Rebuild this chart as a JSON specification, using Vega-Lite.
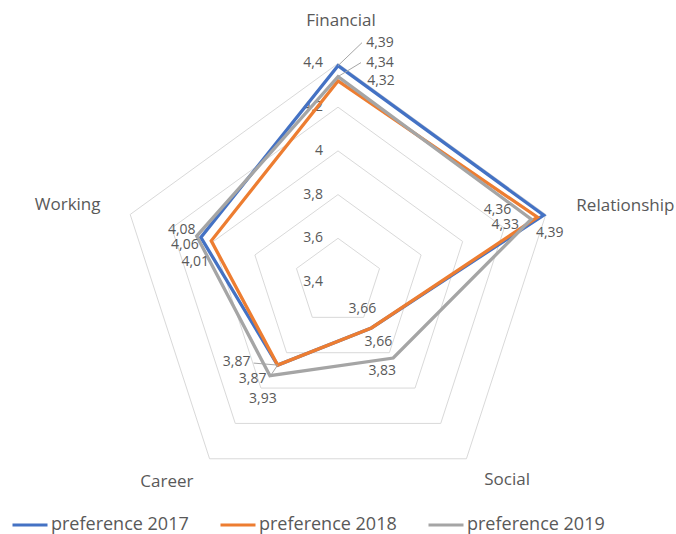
{
  "$schema": "https://vega.github.io/schema/vega-lite/v6.json",
  "width": 676,
  "height": 534,
  "padding": 0,
  "autosize": {"type": "none"},
  "config": {
    "view": {"stroke": null},
    "locale": {"number": {"decimal": ",", "thousands": ".", "grouping": [3], "currency": ["", " €"]}},
    "text": {"font": "Open Sans", "color": "#595959", "fontSize": 14, "baseline": "middle"}
  },
  "datasets": {
    "scores": [
      {"series": "preference 2017", "axis": "Financial", "value": 4.39},
      {"series": "preference 2017", "axis": "Relationship", "value": 4.39},
      {"series": "preference 2017", "axis": "Social", "value": 3.66},
      {"series": "preference 2017", "axis": "Career", "value": 3.87},
      {"series": "preference 2017", "axis": "Working", "value": 4.06},
      {"series": "preference 2018", "axis": "Financial", "value": 4.32},
      {"series": "preference 2018", "axis": "Relationship", "value": 4.36},
      {"series": "preference 2018", "axis": "Social", "value": 3.66},
      {"series": "preference 2018", "axis": "Career", "value": 3.87},
      {"series": "preference 2018", "axis": "Working", "value": 4.01},
      {"series": "preference 2019", "axis": "Financial", "value": 4.34},
      {"series": "preference 2019", "axis": "Relationship", "value": 4.33},
      {"series": "preference 2019", "axis": "Social", "value": 3.83},
      {"series": "preference 2019", "axis": "Career", "value": 3.93},
      {"series": "preference 2019", "axis": "Working", "value": 4.08}
    ],
    "grid": [
      {"axis": ["Financial", "Relationship", "Social", "Career", "Working"], "value": [3.6, 3.8, 4.0, 4.2, 4.4]}
    ],
    "ticks": [
      {"axis": "Financial", "value": 3.4},
      {"axis": "Financial", "value": 3.6},
      {"axis": "Financial", "value": 3.8},
      {"axis": "Financial", "value": 4.0},
      {"axis": "Financial", "value": 4.2},
      {"axis": "Financial", "value": 4.4}
    ],
    "axes": [
      {"axis": "Financial", "value": 4.6},
      {"axis": "Relationship", "value": 4.6},
      {"axis": "Social", "value": 4.6},
      {"axis": "Career", "value": 4.6},
      {"axis": "Working", "value": 4.6}
    ]
  },
  "encoding": {
    "x": {"field": "px", "type": "quantitative", "scale": {"domain": [-1.5469, 1.5469], "nice": false, "zero": false}, "axis": null},
    "y": {"field": "py", "type": "quantitative", "scale": {"domain": [-1.1533, 1.2906], "nice": false, "zero": false}, "axis": null}
  },
  "layer": [
    {
      "data": {"name": "grid"},
      "transform": [
        {"flatten": ["axis"]},
        {"flatten": ["value"]},
        {"calculate": "datum.axis == 'Financial' ? 0 : datum.axis == 'Relationship' ? 1 : datum.axis == 'Social' ? 2 : datum.axis == 'Career' ? 3 : 4", "as": "k"},
        {"calculate": "(datum.value - 3.4) * sin(datum.k * 2 * PI / 5)", "as": "px"},
        {"calculate": "(datum.value - 3.4) * cos(datum.k * 2 * PI / 5)", "as": "py"}
      ],
      "mark": {"type": "line", "interpolate": "linear-closed", "stroke": "#D9D9D9", "strokeWidth": 1},
      "encoding": {
        "detail": {"field": "value", "type": "nominal"},
        "order": {"field": "k", "type": "quantitative"}
      }
    },
    {
      "data": {"name": "ticks"},
      "transform": [
        {"calculate": "0", "as": "px"},
        {"calculate": "datum.value - 3.4", "as": "py"}
      ],
      "mark": {"type": "text", "align": "right", "dx": -15},
      "encoding": {"text": {"field": "value", "type": "quantitative", "format": "~g"}}
    },
    {
      "data": {"name": "scores"},
      "transform": [
        {"calculate": "datum.axis == 'Financial' ? 0 : datum.axis == 'Relationship' ? 1 : datum.axis == 'Social' ? 2 : datum.axis == 'Career' ? 3 : 4", "as": "k"},
        {"calculate": "(datum.value - 3.4) * sin(datum.k * 2 * PI / 5)", "as": "px"},
        {"calculate": "(datum.value - 3.4) * cos(datum.k * 2 * PI / 5)", "as": "py"}
      ],
      "layer": [
        {
          "mark": {"type": "line", "interpolate": "linear-closed", "strokeWidth": 3.3, "strokeJoin": "miter"},
          "encoding": {
            "color": {
              "field": "series",
              "type": "nominal",
              "scale": {"domain": ["preference 2017", "preference 2018", "preference 2019"], "range": ["#4472C4", "#ED7D31", "#A5A5A5"]},
              "legend": {
                "orient": "none",
                "legendX": 11,
                "legendY": 506,
                "direction": "horizontal",
                "title": null,
                "symbolType": "stroke",
                "symbolSize": 1225,
                "symbolStrokeWidth": 3,
                "labelFont": "Open Sans",
                "labelFontSize": 18,
                "labelColor": "#595959",
                "labelOffset": 2,
                "columnPadding": 25,
                "padding": 0
              }
            },
            "order": {"field": "k", "type": "quantitative"}
          }
        },
        {
          "transform": [{"filter": "datum.axis == 'Financial' && datum.series == 'preference 2017'"}],
          "mark": {"type": "rule", "stroke": "#A6A6A6", "strokeWidth": 1, "x2Offset": 24, "y2Offset": -23},
          "encoding": {"x2": {"field": "px"}, "y2": {"field": "py"}}
        },
        {
          "transform": [{"filter": "datum.axis == 'Financial' && datum.series == 'preference 2019'"}],
          "mark": {"type": "rule", "stroke": "#A6A6A6", "strokeWidth": 1, "x2Offset": 23, "y2Offset": -14},
          "encoding": {"x2": {"field": "px"}, "y2": {"field": "py"}}
        },
        {
          "transform": [{"filter": "datum.axis == 'Career' && datum.series == 'preference 2018'"}],
          "mark": {"type": "rule", "stroke": "#A6A6A6", "strokeWidth": 1, "x2Offset": -24, "y2Offset": -2},
          "encoding": {"x2": {"field": "px"}, "y2": {"field": "py"}}
        },
        {
          "transform": [{"filter": "datum.axis == 'Career' && datum.series == 'preference 2017'"}],
          "mark": {"type": "rule", "stroke": "#A6A6A6", "strokeWidth": 1, "x2Offset": -8, "y2Offset": 12},
          "encoding": {"x2": {"field": "px"}, "y2": {"field": "py"}}
        },
        {"transform": [{"filter": "datum.axis == 'Financial' && datum.series == 'preference 2017'"}], "mark": {"type": "text", "dx": 42, "dy": -23}, "encoding": {"text": {"field": "value", "type": "quantitative", "format": ".2f"}}},
        {"transform": [{"filter": "datum.axis == 'Financial' && datum.series == 'preference 2019'"}], "mark": {"type": "text", "dx": 42, "dy": -14}, "encoding": {"text": {"field": "value", "type": "quantitative", "format": ".2f"}}},
        {"transform": [{"filter": "datum.axis == 'Financial' && datum.series == 'preference 2018'"}], "mark": {"type": "text", "dx": 43, "dy": 0}, "encoding": {"text": {"field": "value", "type": "quantitative", "format": ".2f"}}},
        {"transform": [{"filter": "datum.axis == 'Relationship' && datum.series == 'preference 2018'"}], "mark": {"type": "text", "dx": -40, "dy": -7}, "encoding": {"text": {"field": "value", "type": "quantitative", "format": ".2f"}}},
        {"transform": [{"filter": "datum.axis == 'Relationship' && datum.series == 'preference 2019'"}], "mark": {"type": "text", "dx": -26, "dy": 6}, "encoding": {"text": {"field": "value", "type": "quantitative", "format": ".2f"}}},
        {"transform": [{"filter": "datum.axis == 'Relationship' && datum.series == 'preference 2017'"}], "mark": {"type": "text", "dx": 6, "dy": 18}, "encoding": {"text": {"field": "value", "type": "quantitative", "format": ".2f"}}},
        {"transform": [{"filter": "datum.axis == 'Social' && datum.series == 'preference 2018'"}], "mark": {"type": "text", "dx": -9, "dy": -19}, "encoding": {"text": {"field": "value", "type": "quantitative", "format": ".2f"}}},
        {"transform": [{"filter": "datum.axis == 'Social' && datum.series == 'preference 2017'"}], "mark": {"type": "text", "dx": 7, "dy": 14}, "encoding": {"text": {"field": "value", "type": "quantitative", "format": ".2f"}}},
        {"transform": [{"filter": "datum.axis == 'Social' && datum.series == 'preference 2019'"}], "mark": {"type": "text", "dx": -11, "dy": 13}, "encoding": {"text": {"field": "value", "type": "quantitative", "format": ".2f"}}},
        {"transform": [{"filter": "datum.axis == 'Career' && datum.series == 'preference 2018'"}], "mark": {"type": "text", "dx": -41, "dy": -3}, "encoding": {"text": {"field": "value", "type": "quantitative", "format": ".2f"}}},
        {"transform": [{"filter": "datum.axis == 'Career' && datum.series == 'preference 2017'"}], "mark": {"type": "text", "dx": -25, "dy": 14}, "encoding": {"text": {"field": "value", "type": "quantitative", "format": ".2f"}}},
        {"transform": [{"filter": "datum.axis == 'Career' && datum.series == 'preference 2019'"}], "mark": {"type": "text", "dx": -7, "dy": 23}, "encoding": {"text": {"field": "value", "type": "quantitative", "format": ".2f"}}},
        {"transform": [{"filter": "datum.axis == 'Working' && datum.series == 'preference 2019'"}], "mark": {"type": "text", "dx": -15, "dy": -6}, "encoding": {"text": {"field": "value", "type": "quantitative", "format": ".2f"}}},
        {"transform": [{"filter": "datum.axis == 'Working' && datum.series == 'preference 2017'"}], "mark": {"type": "text", "dx": -16, "dy": 8}, "encoding": {"text": {"field": "value", "type": "quantitative", "format": ".2f"}}},
        {"transform": [{"filter": "datum.axis == 'Working' && datum.series == 'preference 2018'"}], "mark": {"type": "text", "dx": -16, "dy": 21}, "encoding": {"text": {"field": "value", "type": "quantitative", "format": ".2f"}}}
      ]
    },
    {
      "data": {"name": "axes"},
      "transform": [
        {"calculate": "datum.axis == 'Financial' ? 0 : datum.axis == 'Relationship' ? 1 : datum.axis == 'Social' ? 2 : datum.axis == 'Career' ? 3 : 4", "as": "k"},
        {"calculate": "(datum.value - 3.4) * sin(datum.k * 2 * PI / 5)", "as": "px"},
        {"calculate": "(datum.value - 3.4) * cos(datum.k * 2 * PI / 5)", "as": "py"}
      ],
      "layer": [
        {"transform": [{"filter": "datum.axis == 'Financial'"}], "mark": {"type": "text", "fontSize": 17, "dx": 3, "dy": 1}, "encoding": {"text": {"field": "axis"}}},
        {"transform": [{"filter": "datum.axis == 'Relationship'"}], "mark": {"type": "text", "fontSize": 17, "dx": 38, "dy": 5}, "encoding": {"text": {"field": "axis"}}},
        {"transform": [{"filter": "datum.axis == 'Social'"}], "mark": {"type": "text", "fontSize": 17, "dx": 15, "dy": -14}, "encoding": {"text": {"field": "axis"}}},
        {"transform": [{"filter": "datum.axis == 'Career'"}], "mark": {"type": "text", "fontSize": 17, "dx": -17, "dy": -12}, "encoding": {"text": {"field": "axis"}}},
        {"transform": [{"filter": "datum.axis == 'Working'"}], "mark": {"type": "text", "fontSize": 17, "dx": -21, "dy": 4}, "encoding": {"text": {"field": "axis"}}}
      ]
    }
  ]
}
